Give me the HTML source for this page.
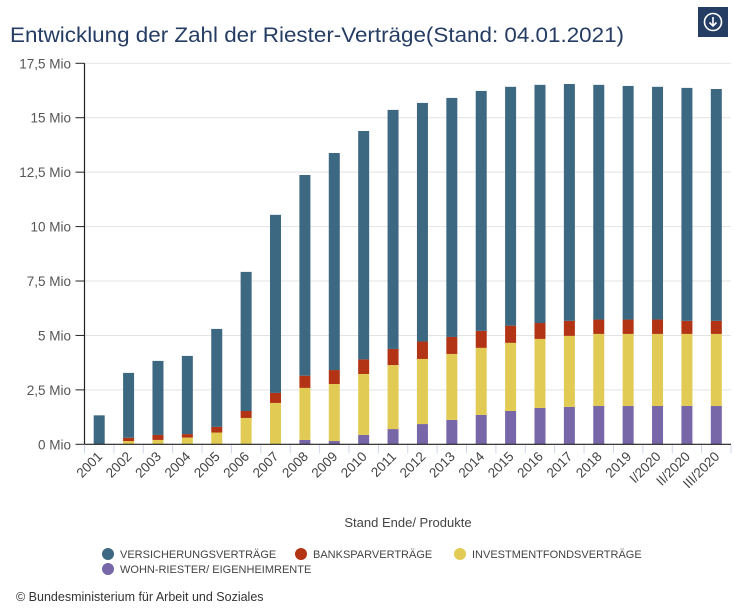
<!DOCTYPE html>
<html><head><meta charset="utf-8">
<style>
body{margin:0;background:#fff;font-family:"Liberation Sans",sans-serif;}
#wrap{position:relative;width:734px;height:610px;overflow:hidden;}
</style></head>
<body>
<div id="wrap">
<svg id="svg" width="734" height="610" xmlns="http://www.w3.org/2000/svg">
  <text x="10" y="42" font-size="21" fill="#253c63" textLength="614" lengthAdjust="spacingAndGlyphs">Entwicklung der Zahl der Riester-Verträge(Stand: 04.01.2021)</text>
  <g>
    <rect x="698" y="7" width="30" height="30" fill="#253c63"/>
    <circle cx="713" cy="22" r="8.5" fill="none" stroke="#fff" stroke-width="1.6"/>
    <path d="M713 17 V26 M709.5 22.5 L713 26 L716.5 22.5" fill="none" stroke="#fff" stroke-width="1.6"/>
  </g>
  <g id="grid"></g>
  <g id="bars"></g>
  <g id="axes"></g>
  <text x="408" y="527" font-size="13" fill="#444" text-anchor="middle">Stand Ende/ Produkte</text>
  <g id="legend"></g>
  <text x="16" y="601" font-size="12.5" fill="#333">© Bundesministerium für Arbeit und Soziales</text>
</svg>
</div>
<script>
const categories=["2001","2002","2003","2004","2005","2006","2007","2008","2009","2010","2011","2012","2013","2014","2015","2016","2017","2018","2019","I/2020","II/2020","III/2020"];
const wohn=[0,0,0,0,0,0,0,0.2,0.15,0.43,0.7,0.93,1.12,1.35,1.53,1.67,1.72,1.76,1.76,1.76,1.76,1.76];
const invest=[0,0.15,0.2,0.31,0.54,1.21,1.9,2.39,2.62,2.8,2.94,2.99,3.03,3.08,3.13,3.17,3.26,3.31,3.31,3.31,3.31,3.31];
const bank=[0,0.15,0.23,0.16,0.26,0.32,0.46,0.56,0.64,0.67,0.74,0.8,0.78,0.78,0.79,0.73,0.69,0.66,0.66,0.66,0.6,0.6];
const vers=[1.33,2.98,3.4,3.59,4.5,6.39,8.18,9.22,9.97,10.49,10.98,10.96,10.98,11.02,10.97,10.94,10.88,10.78,10.73,10.69,10.7,10.65];
const yTicks=[0,2.5,5,7.5,10,12.5,15,17.5];
const yTickLabels=["0 Mio","2,5 Mio","5 Mio","7,5 Mio","10 Mio","12,5 Mio","15 Mio","17,5 Mio"];
const seriesNames=["VERSICHERUNGSVERTRÄGE","BANKSPARVERTRÄGE","INVESTMENTFONDSVERTRÄGE","WOHN-RIESTER/ EIGENHEIMRENTE"];

const NS="http://www.w3.org/2000/svg";
const L=84.5,R=731,Y0=444.3,Y1=63.3,YMAX=17.5;
const band=(R-L)/categories.length;
function y(v){return Y0-(v/YMAX)*(Y0-Y1);}
function xc(i){return L+band*(i+0.5);}
function mk(tag,attrs,parent){const e=document.createElementNS(NS,tag);for(const k in attrs)e.setAttribute(k,attrs[k]);parent.appendChild(e);return e;}
const grid=document.getElementById('grid'),bars=document.getElementById('bars'),axes=document.getElementById('axes'),legend=document.getElementById('legend');

yTicks.forEach((t,i)=>{
  const g=mk('line',{x1:L,x2:R,y1:y(t),y2:y(t),stroke:'#e3e3e3','stroke-width':1},grid);
  
  
  const tk=mk('line',{x1:L-9,x2:L,y1:y(t),y2:y(t),stroke:'#222','stroke-width':1},axes);
  
  
  const tx=mk('text',{x:71,y:y(t)+5,'font-size':13.5,fill:'#555','text-anchor':'end'},axes);
  tx.textContent=yTickLabels[i];
  
  
});

const colors=["#3d6882","#b23415","#e2cb54","#7767a8"];
categories.forEach((c,i)=>{
  const segs=[[wohn[i],colors[3]],[invest[i],colors[2]],[bank[i],colors[1]],[vers[i],colors[0]]];
  let acc=0;
  segs.forEach((s,j)=>{
    if(s[0]<=0)return;
    const r=mk('rect',{x:xc(i)-5.5,width:11,y:y(acc+s[0]),height:y(acc)-y(acc+s[0]),fill:s[1]},bars);
    
    
    acc+=s[0];
  });
  const tk=mk('line',{x1:L+band*i,x2:L+band*i,y1:Y0,y2:Y0+9,stroke:'#ccd6eb','stroke-width':1},axes);
  
  
  const tx=mk('text',{x:xc(i)+4,y:Y0+13,'font-size':13.5,fill:'#444','text-anchor':'end',transform:`rotate(-45 ${xc(i)+4} ${Y0+13})`},axes);
  tx.textContent=c;
  
  
});
const tkE=mk('line',{x1:R,x2:R,y1:Y0,y2:Y0+9,stroke:'#ccd6eb','stroke-width':1},axes);


const ya=mk('line',{x1:L,x2:L,y1:Y1,y2:Y0,stroke:'#222','stroke-width':1.2},axes);


const xa=mk('line',{x1:L,x2:R,y1:Y0,y2:Y0,stroke:'#222','stroke-width':1.2},axes);



const lpos=[[108,558],[301,558],[460,558],[108,573]];
seriesNames.forEach((n,i)=>{
  const g=mk('g',{},legend);
  
  
  mk('circle',{cx:lpos[i][0],cy:lpos[i][1]-4,r:6,fill:colors[i]},g);
  const t=mk('text',{x:lpos[i][0]+12,y:lpos[i][1],'font-size':11,fill:'#444'},g);
  t.textContent=n;
});
</script>
</body></html>
